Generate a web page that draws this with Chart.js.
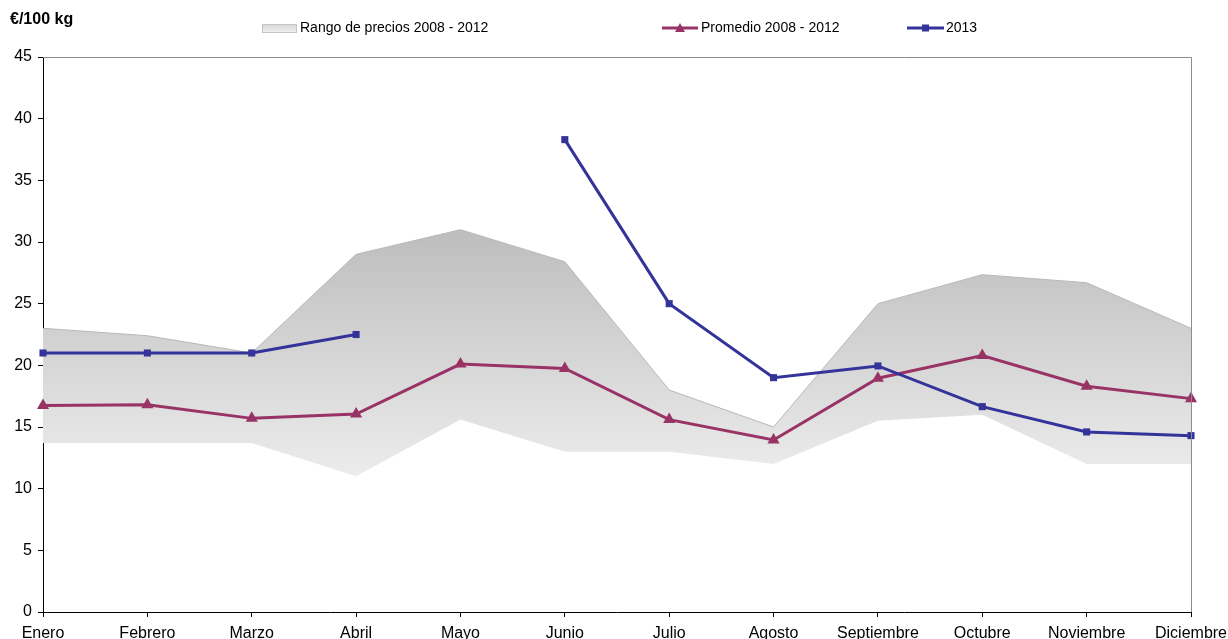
<!DOCTYPE html>
<html>
<head>
<meta charset="utf-8">
<script src="https://cdn.jsdelivr.net/npm/chart.js@4"></script>
<style>
  html, body { margin: 0; padding: 0; background: #fff; overflow: hidden; }
  canvas { display: block; }
</style>
</head>
<body>
<canvas id="grafico" width="1228" height="639"></canvas>
<script>
// datos (€/100 kg)
const meses = ['Enero', 'Febrero', 'Marzo', 'Abril', 'Mayo', 'Junio', 'Julio', 'Agosto', 'Septiembre', 'Octubre', 'Noviembre', 'Diciembre'];
const rangoMin = [13.7, 13.7, 13.7, 11.0, 15.6, 13.0, 13.0, 12.0, 15.5, 16.0, 12.0, 12.0];
const rangoMax = [23.0, 22.4, 21.0, 29.0, 31.0, 28.4, 18.0, 15.0, 25.0, 27.35, 26.7, 23.0];
const promedio = [16.75, 16.8, 15.7, 16.05, 20.1, 19.75, 15.6, 13.95, 18.95, 20.8, 18.3, 17.3];
const serie2013 = [21.0, 21.0, 21.0, 22.5, null, 38.3, 25.0, 19.0, 19.95, 16.65, 14.6, 14.3];
const ejeY = { min: 0, max: 45, paso: 5 };

const FUENTE = '"Liberation Sans", Arial, sans-serif';
const COLOR_PROMEDIO = '#993366';
const COLOR_2013 = '#333399';

function degradadoRango(chart) {
    const { ctx, chartArea, scales } = chart;
    if (!chartArea) return '#cccccc';
    const yTop = scales.y.getPixelForValue(Math.max(...rangoMax));
    const yBot = scales.y.getPixelForValue(Math.min(...rangoMin));
    const g = ctx.createLinearGradient(0, yTop, 0, yBot);
    g.addColorStop(0, '#bdbdbd');
    g.addColorStop(1, '#ececec');
    return g;
}

// título, leyenda y marco superior/derecho
const decoracion = {
    id: 'decoracion',
    afterDraw(chart) {
        const { ctx, chartArea } = chart;
        ctx.save();

        // marco gris arriba y a la derecha
        ctx.strokeStyle = '#8c8c8c';
        ctx.lineWidth = 1;
        ctx.beginPath();
        ctx.moveTo(chartArea.left, chartArea.top + 0.5);
        ctx.lineTo(chartArea.right + 0.5, chartArea.top + 0.5);
        ctx.lineTo(chartArea.right + 0.5, chartArea.bottom);
        ctx.stroke();

        // unidad
        ctx.fillStyle = '#000';
        ctx.font = 'bold 16px ' + FUENTE;
        ctx.textBaseline = 'middle';
        ctx.textAlign = 'left';
        ctx.fillText('€/100 kg', 10, 20);

        ctx.font = '14px ' + FUENTE;
        const yLey = 28;

        // rango
        const g = ctx.createLinearGradient(0, yLey - 5, 0, yLey + 5);
        g.addColorStop(0, '#d4d4d4');
        g.addColorStop(1, '#f2f2f2');
        ctx.fillStyle = g;
        ctx.fillRect(262, yLey - 4, 35, 9);
        ctx.strokeStyle = '#c4c4c4';
        ctx.strokeRect(262.5, yLey - 3.5, 34, 8);
        ctx.fillStyle = '#000';
        ctx.fillText('Rango de precios 2008 - 2012', 300, yLey);

        // promedio
        ctx.strokeStyle = COLOR_PROMEDIO;
        ctx.lineWidth = 3;
        ctx.beginPath(); ctx.moveTo(662, yLey); ctx.lineTo(698, yLey); ctx.stroke();
        ctx.fillStyle = COLOR_PROMEDIO;
        ctx.beginPath();
        ctx.moveTo(680, yLey - 5); ctx.lineTo(685, yLey + 4); ctx.lineTo(675, yLey + 4);
        ctx.closePath(); ctx.fill();
        ctx.fillStyle = '#000';
        ctx.fillText('Promedio 2008 - 2012', 701, yLey);

        // 2013
        ctx.strokeStyle = COLOR_2013;
        ctx.beginPath(); ctx.moveTo(907, yLey); ctx.lineTo(944, yLey); ctx.stroke();
        ctx.fillStyle = COLOR_2013;
        ctx.fillRect(922, yLey - 3.5, 7, 7);
        ctx.fillStyle = '#000';
        ctx.fillText('2013', 946, yLey);

        ctx.restore();
    }
};

new Chart(document.getElementById('grafico'), {
    type: 'line',
    data: {
        labels: meses,
        datasets: [
            {
                label: 'min',
                data: rangoMin,
                borderColor: 'transparent',
                borderWidth: 0,
                pointRadius: 0,
                fill: false,
                order: 3
            },
            {
                label: 'Rango de precios 2008 - 2012',
                data: rangoMax,
                borderColor: '#b8b8b8',
                borderWidth: 1,
                pointRadius: 0,
                fill: '-1',
                backgroundColor: ctx => degradadoRango(ctx.chart),
                order: 2
            },
            {
                label: 'Promedio 2008 - 2012',
                data: promedio,
                borderColor: COLOR_PROMEDIO,
                backgroundColor: COLOR_PROMEDIO,
                borderWidth: 3,
                pointStyle: 'triangle',
                pointRadius: 7,
                pointBorderWidth: 0,
                fill: false,
                order: 1
            },
            {
                label: '2013',
                data: serie2013,
                borderColor: COLOR_2013,
                backgroundColor: COLOR_2013,
                borderWidth: 3,
                pointStyle: 'rect',
                pointRadius: 5,
                pointBorderWidth: 0,
                spanGaps: false,
                fill: false,
                order: 0
            }
        ]
    },
    options: {
        responsive: false,
        animation: false,
        layout: { padding: { top: 57, right: 37, left: 0, bottom: 0 } },
        plugins: {
            legend: { display: false },
            tooltip: { enabled: false },
            filler: { drawTime: 'beforeDatasetsDraw' }
        },
        scales: {
            x: {
                offset: false,
                grid: { drawOnChartArea: false, drawTicks: true, tickLength: 5, color: '#000' },
                border: { color: '#000', width: 1 },
                ticks: {
                    color: '#000',
                    font: { family: FUENTE, size: 16 },
                    padding: 7,
                    autoSkip: false,
                    maxRotation: 0,
                    minRotation: 0
                },
                afterFit: s => { s.height = 27; s.paddingLeft = 0; s.paddingRight = 0; }
            },
            y: {
                min: ejeY.min,
                max: ejeY.max,
                grid: { drawOnChartArea: false, drawTicks: true, tickLength: 5, color: '#000' },
                border: { color: '#000', width: 1 },
                ticks: {
                    stepSize: ejeY.paso,
                    color: '#000',
                    font: { family: FUENTE, size: 16 },
                    padding: 6
                },
                afterFit: s => { s.width = 43; s.paddingTop = 0; s.paddingBottom = 0; }
            }
        }
    },
    plugins: [decoracion]
});
</script>
</body>
</html>
